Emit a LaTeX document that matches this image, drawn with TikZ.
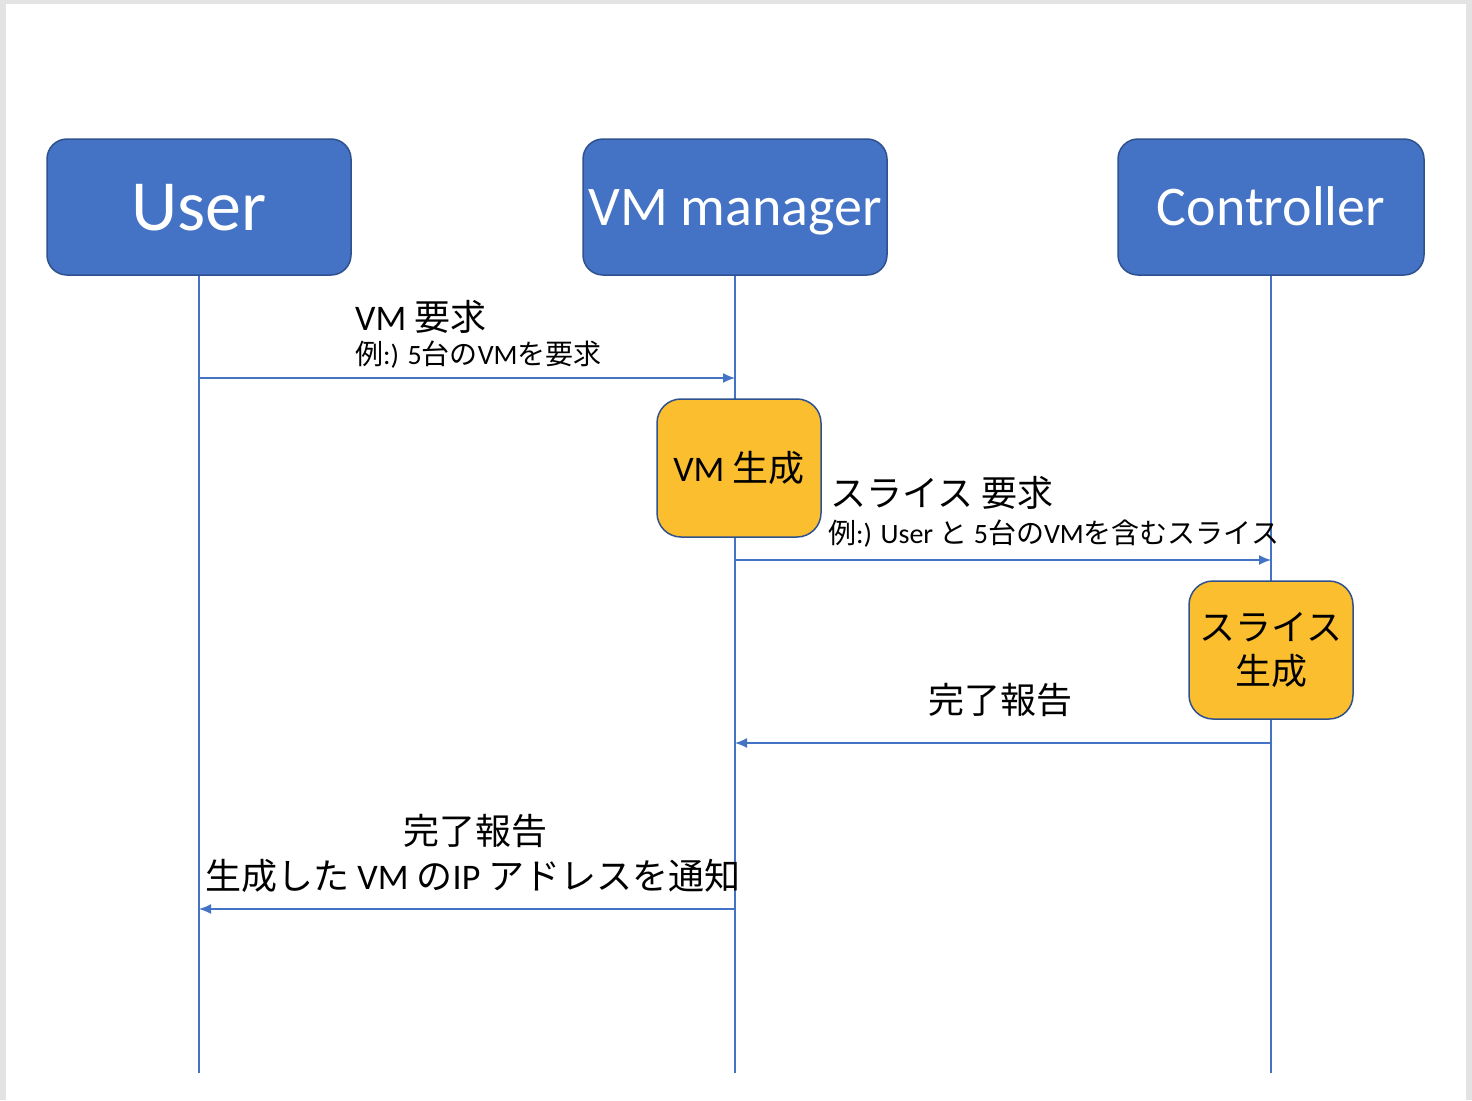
\documentclass[tikz,border=0pt]{standalone}
\usepackage{fontspec}
\setmainfont{Carlito}
\newfontfamily\jp{Noto Sans CJK JP}
\usetikzlibrary{positioning,arrows.meta}

\definecolor{headblue}{HTML}{4472C4}
\definecolor{headedge}{HTML}{2F528F}
\definecolor{actyellow}{HTML}{FBBE2E}
\definecolor{pagegray}{HTML}{E3E3E3}

\tikzset{
  head/.style={draw=headedge, fill=headblue, line width=1.5pt, rounded corners=20pt,
    minimum width=304pt, minimum height=136pt, inner sep=0pt, text=white,
    font=\fontsize{56}{60}\selectfont, text height=36pt, text depth=0pt},
  act/.style={draw=headedge, fill=actyellow, line width=1.5pt, rounded corners=24pt,
    minimum width=164pt, minimum height=138pt, inner sep=0pt, align=center,
    font=\fontsize{36}{44}\selectfont},
  life/.style={draw=headblue, line width=1.5pt},
  msg/.style={draw=headblue, line width=1.5pt, -{Latex[length=12pt,width=10pt]}},
  lbl/.style={inner sep=0pt, font=\fontsize{36}{40}\selectfont},
  sublbl/.style={inner sep=0pt, font=\fontsize{28}{32}\selectfont}
}

\begin{document}
\begin{tikzpicture}[x=1pt, y=-1pt, node distance=536pt, on grid]
        \fill[pagegray] (0,0) rectangle (1472,1100);
        \fill[white] (6,4) rectangle (1466,1100);
        \useasboundingbox (0,0) rectangle (1472,1100);

        \node[head, font=\fontsize{72}{76}\selectfont, text height=46pt] (user) at (199,207) {User};
        \node[head] (vmm) [right=of user] {VM manager};
        \node[head, minimum width=306pt] (ctrl) [right=of vmm] {Controller};

        \coordinate (bottom) at (0,1073);
        \draw[life] (user.south) -- (user |- bottom);
        \draw[life] (vmm.south) -- (vmm |- bottom);
        \draw[life] (ctrl.south) -- (ctrl |- bottom);

        \node[act, xshift=4pt] (vmgen) [below=261pt of vmm] {VM {\jp 生成}};
        \node[act] (slicegen) [below=443pt of ctrl] {{\jp スライス}\\{\jp 生成}};

        \coordinate (m1) at (0,378);
        \draw[msg] (user |- m1) -- (vmm |- m1);
        \node[lbl, anchor=base west] (m1-title) at (355,330) {VM {\jp 要求}};
        \node[sublbl, anchor=base west] (m1-note) at (355,364) {{\jp 例}:) 5{\jp 台の}VM{\jp を要求}};

        \coordinate (m2) at (0,560);
        \draw[msg] (vmm |- m2) -- (ctrl |- m2);
        \node[lbl, anchor=base west] (m2-title) at (830,506) {{\jp スライス 要求}};
        \node[sublbl, anchor=base west] (m2-note) at (828,543) {{\jp 例}:) User {\jp と} 5{\jp 台の}VM{\jp を含むスライス}};

        \coordinate (m3) at (0,743);
        \draw[msg] (ctrl |- m3) -- (vmm |- m3);
        \node[lbl, anchor=base] (m3-title) at (1000,713) {{\jp 完了報告}};

        \coordinate (m4) at (0,909);
        \draw[msg] (vmm |- m4) -- (user |- m4);
        \node[lbl, anchor=base] (m4-title) at (475,844) {{\jp 完了報告}};
        \node[lbl, anchor=base west] (m4-note) at (205,889) {{\jp 生成した} VM {\jp の}IP {\jp アドレスを通知}};
\end{tikzpicture}
\end{document}
